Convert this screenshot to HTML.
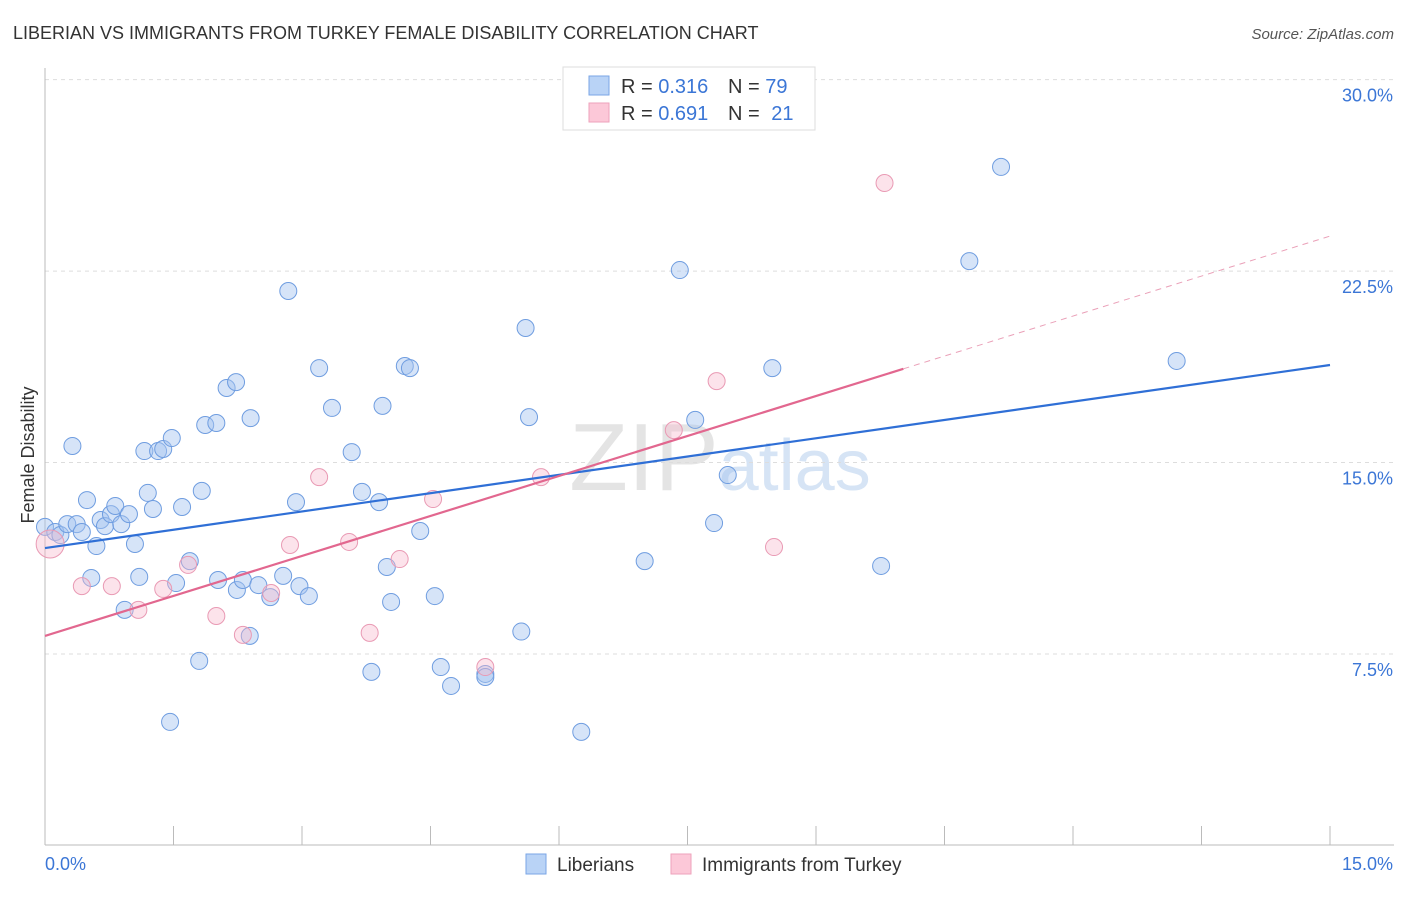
<!DOCTYPE html>
<html><head><meta charset="utf-8"><style>
body{margin:0;background:#fff;font-family:"Liberation Sans",sans-serif}
svg text{font-family:"Liberation Sans",sans-serif}
</style></head><body>
<svg id="c" width="1406" height="892">
<text x="13" y="39" font-size="18" fill="#333">LIBERIAN VS IMMIGRANTS FROM TURKEY FEMALE DISABILITY CORRELATION CHART</text>
<text x="1394" y="39" font-size="15" fill="#555" font-style="italic" text-anchor="end">Source: ZipAtlas.com</text>
<text x="720" y="490" font-size="96" fill="#e4e4e4" text-anchor="middle" font-family="Liberation Serif">ZIP<tspan fill="#d6e4f5" font-family="Liberation Sans" font-size="72">atlas</tspan></text>
<g id="grid"></g><g id="axes"></g><g id="pts"></g><g id="lines"></g>
<text transform="translate(34,455) rotate(-90)" font-size="18" fill="#333" text-anchor="middle">Female Disability</text>
<g>
<rect x="563" y="67" width="252" height="63" fill="#fff" stroke="#ddd"/>
<rect x="589" y="76" width="20" height="19" fill="#b9d3f6" stroke="#7aa6e6"/>
<rect x="589" y="103" width="20" height="19" fill="#fcc8d8" stroke="#eea2bb"/>
<text x="621" y="93" font-size="20" fill="#333">R = <tspan fill="#3b76d6">0.316</tspan></text>
<text x="728" y="93" font-size="20" fill="#333">N = <tspan fill="#3b76d6">79</tspan></text>
<text x="621" y="120" font-size="20" fill="#333">R = <tspan fill="#3b76d6">0.691</tspan></text>
<text x="728" y="120" font-size="20" fill="#333">N = <tspan fill="#3b76d6" dx="6">21</tspan></text>
</g>
<g>
<rect x="526" y="854" width="20" height="20" fill="#b9d3f6" stroke="#7aa6e6"/>
<text x="557" y="871" font-size="19" fill="#333">Liberians</text>
<rect x="671" y="854" width="20" height="20" fill="#fcc8d8" stroke="#eea2bb"/>
<text x="702" y="871" font-size="19" fill="#333">Immigrants from Turkey</text>
</g>
</svg>
<script>
const xTicks=[0,1.5,3,4.5,6,7.5,9,10.5,12,13.5,15];
const yTicks=[7.5,15,22.5,30];
const yTickLabels=["7.5%","15.0%","22.5%","30.0%"];
const blueX=[0,0.12,0.18,0.26,0.32,0.37,0.43,0.49,0.54,0.6,0.65,0.7,0.77,0.82,0.89,0.93,0.98,1.05,1.1,1.16,1.2,1.26,1.32,1.38,1.46,1.48,1.53,1.6,1.69,1.8,1.83,1.87,2,2.02,2.12,2.23,2.24,2.31,2.39,2.4,2.49,2.63,2.78,2.84,2.93,2.97,3.08,3.2,3.35,3.58,3.7,3.81,3.9,3.94,3.99,4.04,4.2,4.26,4.38,4.55,4.62,4.74,5.14,5.14,5.56,5.61,5.65,6.26,7,7.41,7.59,7.81,7.97,8.49,9.76,10.79,11.16,13.21];
const blueY=[12.48,12.28,12.16,12.59,15.65,12.59,12.28,13.53,10.48,11.73,12.75,12.51,12.98,13.3,12.59,9.23,12.98,11.81,10.52,15.45,13.81,13.18,15.45,15.53,4.84,15.96,10.28,13.26,11.14,7.23,13.89,16.47,16.55,10.4,17.92,18.15,10.01,10.4,8.21,16.74,10.2,9.73,10.56,21.72,13.45,10.16,9.77,18.7,17.14,15.41,13.85,6.8,13.45,17.22,10.91,9.54,18.78,18.7,12.32,9.77,6.99,6.25,6.72,6.6,8.38,20.27,16.78,4.45,11.14,22.54,16.67,12.63,14.51,18.7,10.95,22.89,26.58,18.98];
const pinkX=[0.06,0.43,0.78,1.09,1.38,1.67,2,2.31,2.64,2.86,3.2,3.55,3.79,4.14,4.53,5.14,5.79,7.34,7.84,8.51,9.8];
const pinkY=[11.81,10.16,10.16,9.23,10.05,10.99,8.99,8.25,9.89,11.77,14.43,11.89,8.33,11.22,13.57,6.99,14.43,16.27,18.19,11.69,25.95];
const blueLine=[11.65,18.82];
const pinkLine=[8.21,23.87];
const pinkSolidEnd=10.02;
const sx=v=>45+v*(1285/15);
const sy=v=>845.5-v*25.53;
const NS="http://www.w3.org/2000/svg";
function mk(p,t,a){const e=document.createElementNS(NS,t);for(const k in a)e.setAttribute(k,a[k]);document.getElementById(p).appendChild(e);return e;}
yTicks.forEach((t,i)=>{
 const g=mk('grid','line',{x1:45,x2:1394,y1:sy(t),y2:sy(t),stroke:'#ddd','stroke-dasharray':'4,4'});
 
 
 const l=mk('grid','text',{x:1393,y:sy(t)+22,'font-size':18,fill:'#3b76d6','text-anchor':'end'});
 l.textContent=yTickLabels[i];
 
 
});
const ya=mk('axes','line',{x1:45,x2:45,y1:68,y2:845,stroke:'#bbb'});


const xa=mk('axes','line',{x1:45,x2:1394,y1:845,y2:845,stroke:'#bbb'});


xTicks.forEach(t=>{const e=mk('axes','line',{x1:sx(t),x2:sx(t),y1:826,y2:845,stroke:'#bbb'});
 
 });
const x0=mk('axes','text',{x:45,y:870,'font-size':18,fill:'#3b76d6'});x0.textContent='0.0%';


const x1=mk('axes','text',{x:1393,y:870,'font-size':18,fill:'#3b76d6','text-anchor':'end'});x1.textContent='15.0%';


blueX.forEach((x,i)=>{const c=mk('pts','circle',{cx:sx(x),cy:sy(blueY[i]),r:8.5,fill:'rgba(164,196,240,0.45)',stroke:'#6f9de0','stroke-width':1});
 
 });
pinkX.forEach((x,i)=>{const c=mk('pts','circle',{cx:sx(x),cy:sy(pinkY[i]),r:i==0?14:8.5,fill:'rgba(247,186,205,0.4)',stroke:'#e99ab4','stroke-width':1});
 
 });
const bl=mk('lines','line',{x1:sx(0),y1:sy(blueLine[0]),x2:sx(15),y2:sy(blueLine[1]),stroke:'#2f6fd6','stroke-width':2.2});


const pm=pinkLine[0]+(pinkLine[1]-pinkLine[0])*pinkSolidEnd/15;
const pl=mk('lines','line',{x1:sx(0),y1:sy(pinkLine[0]),x2:sx(pinkSolidEnd),y2:sy(pm),stroke:'#e2678f','stroke-width':2.2});


const pd=mk('lines','line',{x1:sx(pinkSolidEnd),y1:sy(pm),x2:sx(15),y2:sy(pinkLine[1]),stroke:'#eaa0b8','stroke-width':1,'stroke-dasharray':'6,5'});


</script>
</body></html>
